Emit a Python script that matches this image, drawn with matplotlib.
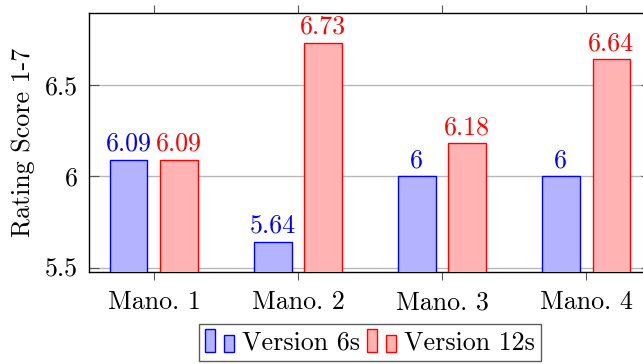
import matplotlib as mpl
import matplotlib.pyplot as plt
import numpy as np
from matplotlib.legend_handler import HandlerBase
from matplotlib.patches import Rectangle

mpl.rcParams['font.family'] = 'cmr10'
mpl.rcParams['mathtext.fontset'] = 'cm'
mpl.rcParams['axes.formatter.use_mathtext'] = True

categories = ['Mano. 1', 'Mano. 2', 'Mano. 3', 'Mano. 4']
v6 = [6.09, 5.64, 6, 6]
v12 = [6.09, 6.73, 6.18, 6.64]
lab6 = ['6.09', '5.64', '6', '6']
lab12 = ['6.09', '6.73', '6.18', '6.64']
series_names = ['Version 6s', 'Version 12s']

blue_fill = '#b3b3ff'
red_fill = '#ffb3b3'
fs = 18.7


class HandlerBars(HandlerBase):
    # pgfplots style ybar legend image: two little bars
    def create_artists(self, legend, orig, xd, yd, w, h, fontsize, trans):
        fc = orig.get_facecolor()
        ec = orig.get_edgecolor()
        r1 = Rectangle((xd + 0.0 * w, yd - 0.15 * h), 0.3 * w, 1.25 * h,
                       facecolor=fc, edgecolor=ec, lw=1, transform=trans)
        r2 = Rectangle((xd + 0.6 * w, yd - 0.15 * h), 0.33 * w, 0.95 * h,
                       facecolor=fc, edgecolor=ec, lw=1, transform=trans)
        return [r1, r2]


fig = plt.figure(figsize=(6.43, 3.64), dpi=100)
ax = fig.add_axes([89 / 643, 1 - 272 / 364, 562 / 643, 259 / 364])

x = np.arange(len(categories))
off = 0.175
w = 0.26
b1 = ax.bar(x - off, v6, w, color=blue_fill, edgecolor='blue', lw=1, zorder=3)
b2 = ax.bar(x + off, v12, w, color=red_fill, edgecolor='red', lw=1, zorder=3)

for xi, v, t in zip(x, v6, lab6):
    ax.annotate(t, (xi - off, v), xytext=(0, 3), textcoords='offset points',
                ha='center', va='bottom', color='blue', fontsize=fs)
for xi, v, t in zip(x, v12, lab12):
    ax.annotate(t, (xi + off, v), xytext=(0, 3), textcoords='offset points',
                ha='center', va='bottom', color='red', fontsize=fs)

ax.set_xlim(-0.451, 3.451)
ax.set_ylim(5.476, 6.894)
ax.set_yticks([5.5, 6, 6.5])
ax.set_yticklabels(['5.5', '6', '6.5'])
ax.set_xticks(x)
ax.set_xticklabels(categories)
ax.yaxis.grid(True, color='#b8b8b8', lw=1, zorder=0)

ax.tick_params(axis='x', direction='out', length=6, top=True, bottom=True,
               color='#555555', labelsize=fs, pad=7.5)
ax.tick_params(axis='y', direction='in', length=7, left=True, right=True,
               color='#555555', labelsize=fs, pad=8)
for s in ax.spines.values():
    s.set_linewidth(1)

ax.set_ylabel('Rating Score 1-7', fontsize=fs, labelpad=7)

leg = ax.legend([b1[0], b2[0]], series_names, loc='center',
                bbox_to_anchor=(0.5, -0.271), ncol=2, fontsize=fs,
                handler_map={b1[0]: HandlerBars(), b2[0]: HandlerBars()},
                frameon=True, fancybox=False, edgecolor='#333333',
                handlelength=1.2, handletextpad=0.2, columnspacing=0.3,
                borderpad=0.25, borderaxespad=0)
leg.get_frame().set_linewidth(1)

fig.savefig('out.png', dpi=100)
